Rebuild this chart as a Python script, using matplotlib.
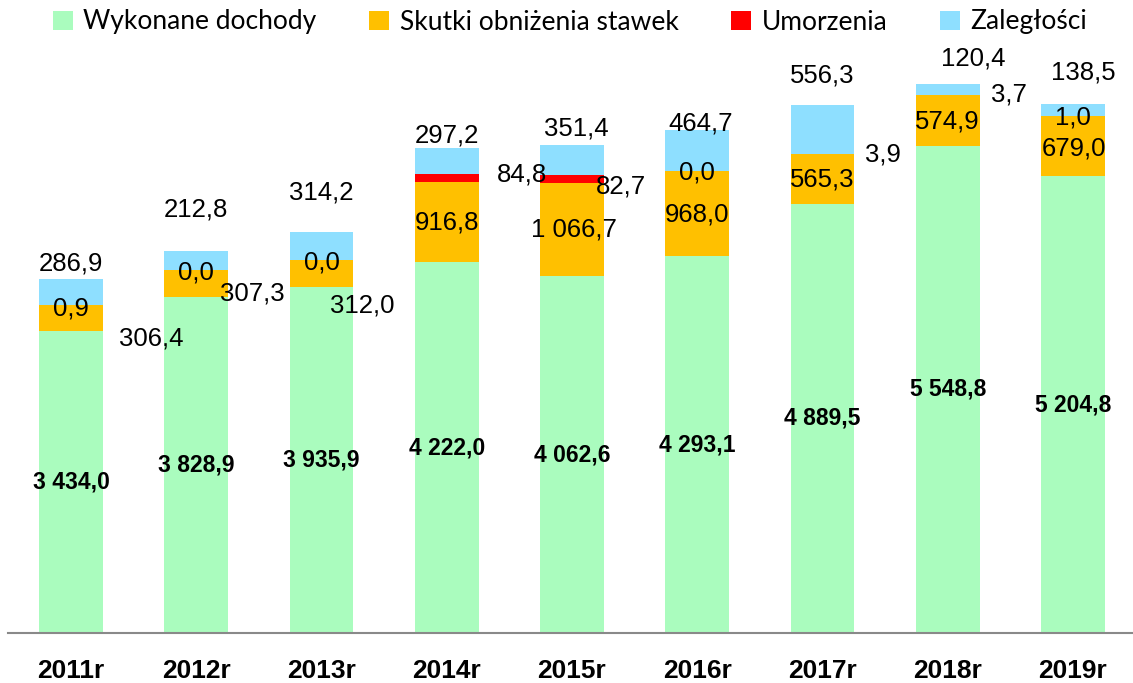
import matplotlib
matplotlib.use("Agg")
import matplotlib.pyplot as plt
import numpy as np

years = ["2011r", "2012r", "2013r", "2014r", "2015r", "2016r", "2017r", "2018r", "2019r"]
wykonane = [3434.0, 3828.9, 3935.9, 4222.0, 4062.6, 4293.1, 4889.5, 5548.8, 5204.8]
skutki = [306.4, 307.3, 312.0, 916.8, 1066.7, 968.0, 565.3, 574.9, 679.0]
umorzenia = [0.9, 0.0, 0.0, 84.8, 82.7, 0.0, 3.9, 3.7, 1.0]
zaleglosci = [286.9, 212.8, 314.2, 297.2, 351.4, 464.7, 556.3, 120.4, 138.5]
series_names = ["Wykonane dochody", "Skutki obniżenia stawek", "Umorzenia", "Zaległości"]
colors = ["#AAFCBE", "#FFC000", "#FF0000", "#8EDFFF"]

# label offsets (pixels) relative to anchors
off_zal = [(0, 16), (0, 42), (0, 40), (0, 13), (4, 16), (3, 7), (0, 29), (26, 26), (10, 32)]
off_umo = [(0, -4), (0, -3), (0, -2), (75, 7), (49, -4), (0, -1), (60, 0), (61, 1), (0, -1)]
off_sku = [(80, -20), (56, -10), (41, -32), (0, 0), (2, 0), (0, -1), (0, -1), (0, -1), (1, -2)]

NUM_FONT = ["Liberation Sans Narrow", "Liberation Sans", "DejaVu Sans"]
LEG_FONT = ["Lato", "DejaVu Sans"]

def fmt(v):
    return f"{v:,.1f}".replace(",", " ").replace(".", ",")

W, H = 1133, 683
fig = plt.figure(figsize=(W / 100, H / 100), dpi=100)
ax = fig.add_axes([8.4 / W, 50 / H, 1127.2 / W, 570.7 / H])

x = np.arange(len(years))
bw = 0.51
w = np.array(wykonane)
s = np.array(skutki)
u = np.array(umorzenia)
z = np.array(zaleglosci)
b1 = w
b2 = w + s
b3 = b2 + u
ax.bar(x, w, bw, color=colors[0], label=series_names[0], zorder=2)
ax.bar(x, s, bw, bottom=b1, color=colors[1], label=series_names[1], zorder=2)
ax.bar(x, u, bw, bottom=b2, color=colors[2], label=series_names[2], zorder=2)
ax.bar(x, z, bw, bottom=b3, color=colors[3], label=series_names[3], zorder=2)

ax.set_xlim(-0.5, len(years) - 0.5)
ax.set_ylim(0, 6500)

fs = 18.5
for i in range(len(years)):
    ax.annotate(fmt(w[i]), (x[i], w[i] / 2), ha="center", va="center",
                fontsize=16.5, fontweight="bold", family=NUM_FONT, zorder=5)
    dx, dy = off_sku[i]
    ax.annotate(fmt(s[i]), (x[i], b1[i] + s[i] / 2), xytext=(dx, dy), textcoords="offset pixels",
                ha="center", va="center", fontsize=fs, family=NUM_FONT, zorder=5)
    dx, dy = off_umo[i]
    ax.annotate(fmt(u[i]), (x[i], b2[i]), xytext=(dx, dy), textcoords="offset pixels",
                ha="center", va="center", fontsize=fs, family=NUM_FONT, zorder=5)
    dx, dy = off_zal[i]
    ax.annotate(fmt(z[i]), (x[i], b3[i] + z[i]), xytext=(dx, dy), textcoords="offset pixels",
                ha="center", va="center", fontsize=fs, family=NUM_FONT, zorder=5)

for sp in ["top", "right", "left"]:
    ax.spines[sp].set_visible(False)
ax.spines["bottom"].set_color("#898989")
ax.spines["bottom"].set_linewidth(1.5)
ax.set_yticks([])
ax.set_xticks(x)
ax.set_xticklabels(years, fontsize=19, fontweight="bold", family=NUM_FONT)
ax.tick_params(axis="x", length=0, pad=19)

leg = fig.legend(loc="center", bbox_to_anchor=(570 / W, 1 - 22 / H), ncol=4, frameon=False,
                 prop={"family": LEG_FONT, "size": 19}, handlelength=0.75, handleheight=0.75,
                 handletextpad=0.4, columnspacing=2.0)

fig.savefig("out.png", dpi=100)
